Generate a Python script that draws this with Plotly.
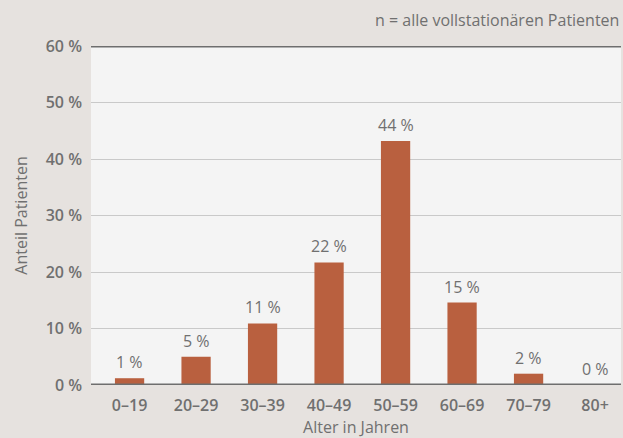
import plotly.graph_objects as go

categories = ["0–19", "20–29", "30–39", "40–49", "50–59", "60–69", "70–79", "80+"]
values = [1.2, 5.0, 10.9, 21.7, 43.2, 14.6, 2.0, 0.0]
value_labels = ["1 %", "5 %", "11 %", "22 %", "44 %", "15 %", "2 %", "0 %"]
y_ticks = [0, 10, 20, 30, 40, 50, 60]
y_tick_labels = ["0 %", "10 %", "20 %", "30 %", "40 %", "50 %", "60 %"]

FONT = "Open Sans"
GREY = "#707070"

fig = go.Figure()
fig.add_trace(go.Bar(
    x=list(range(len(categories))), y=values, width=0.44,
    marker=dict(color="#b9603f", line=dict(width=0)),
    hoverinfo="skip",
))

for i, (v, t) in enumerate(zip(values, value_labels)):
    fig.add_annotation(x=i, y=v, text=t, showarrow=False, yanchor="bottom",
                       yshift=3, font=dict(family=FONT, size=16, color=GREY))

# thick top and bottom lines
for yv in (0, 60):
    fig.add_shape(type="line", xref="paper", yref="y", x0=0, x1=1, y0=yv, y1=yv,
                  line=dict(color="#6e6e6e", width=3), layer="above")

fig.add_annotation(xref="paper", yref="paper", x=1.0, y=1.0, yshift=26,
                   xanchor="right", yanchor="middle", showarrow=False,
                   text="n = alle vollstationären Patienten",
                   font=dict(family=FONT, size=16, color=GREY))

fig.update_layout(
    width=623, height=438,
    margin=dict(l=91, r=2, t=46, b=53),
    paper_bgcolor="#e6e2df", plot_bgcolor="#f4f4f4",
    showlegend=False,
    font=dict(family=FONT, color=GREY),
    xaxis=dict(
        range=[-0.58, 7.39], tickmode="array",
        tickvals=list(range(len(categories))), ticktext=categories,
        showgrid=False, zeroline=False, showline=False, ticks="",
        ticklabelstandoff=9,
        tickfont=dict(family=FONT, size=16, color=GREY, weight=600),
        title=dict(text="Alter in Jahren", standoff=0,
                   font=dict(family=FONT, size=16, color=GREY)),
    ),
    yaxis=dict(
        range=[0, 60], tickmode="array", tickvals=y_ticks, ticktext=y_tick_labels,
        showgrid=True, gridcolor="#c9c9c9", gridwidth=1, zeroline=False,
        showline=False, ticks="", ticklabelstandoff=8,
        tickfont=dict(family=FONT, size=16, color=GREY, weight=600),
        title=dict(text="Anteil Patienten", standoff=14,
                   font=dict(family=FONT, size=16, color=GREY)),
    ),
)

fig.write_html("out.html", config={"displayModeBar": False},
               post_script="document.body.style.margin='0';document.body.style.overflow='hidden';")
